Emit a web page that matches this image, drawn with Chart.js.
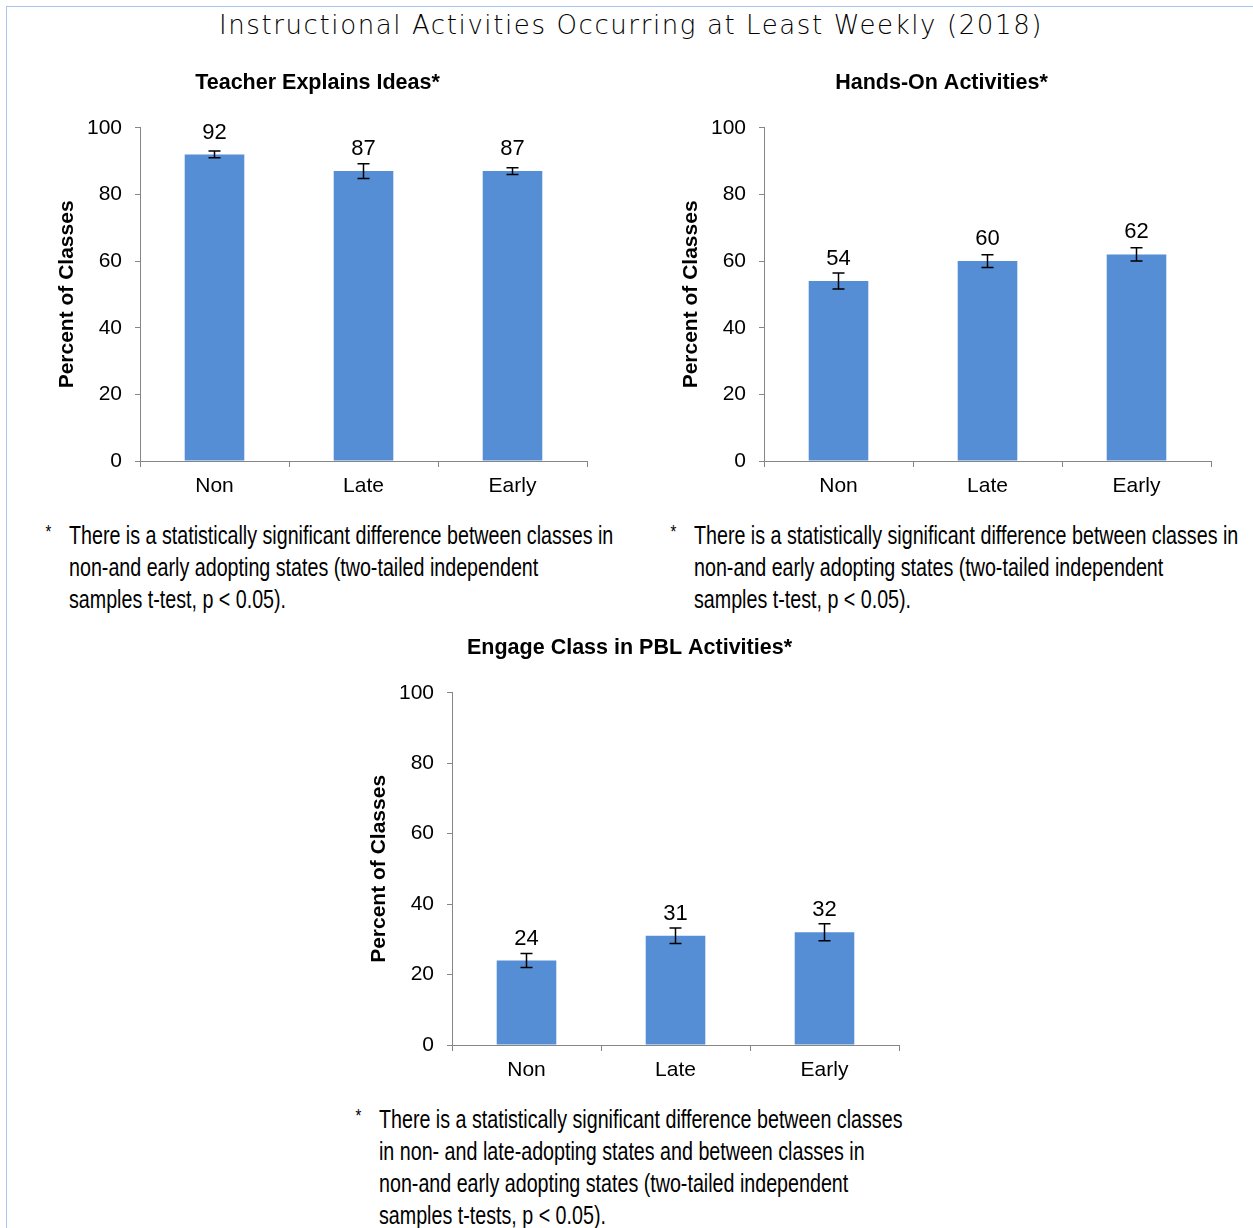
<!DOCTYPE html>
<html>
<head>
<meta charset="utf-8">
<script src="https://cdn.jsdelivr.net/npm/chart.js"></script>
<style>
  body { margin: 0; background: #fff; width: 1253px; height: 1228px; position: relative; overflow: hidden; }
  .frame { position: absolute; left: 6px; top: 6px; right: 0; bottom: 0; border-top: 1px solid #a9c4eb; border-left: 1px solid #a9c4eb; }
  .main-title { position: absolute; left: 0; width: 1262px; top: 10px; text-align: center; font-family: "DejaVu Sans", sans-serif; font-weight: 300; font-size: 26px; letter-spacing: 1.6px; color: #000; }
  .box { position: absolute; }
  .note { position: absolute; font-family: "Liberation Sans", sans-serif; font-size: 25px; line-height: 32px; color: #000; white-space: nowrap; transform: scaleX(0.787); transform-origin: 0 0; }
  .note .star { position: absolute; left: -30px; top: -3px; font-size: 19px; }
</style>
</head>
<body>
<div class="frame"></div>
<div class="main-title">Instructional Activities Occurring at Least Weekly (2018)</div>

<div class="box" style="left:40px; top:60px; width:560px; height:450px;"><canvas id="chart0"></canvas></div>
<div class="box" style="left:664px; top:60px; width:560px; height:450px;"><canvas id="chart1"></canvas></div>
<div class="box" style="left:352px; top:625px; width:560px; height:469px;"><canvas id="chart2"></canvas></div>

<div class="note" style="left:69px; top:519px;"><span class="star">*</span>There is a statistically significant difference between classes in<br>non-and early adopting states (two-tailed independent<br>samples t-test, p &lt; 0.05).</div>
<div class="note" style="left:694px; top:519px;"><span class="star">*</span>There is a statistically significant difference between classes in<br>non-and early adopting states (two-tailed independent<br>samples t-test, p &lt; 0.05).</div>
<div class="note" style="left:379px; top:1103px;"><span class="star">*</span>There is a statistically significant difference between classes<br>in non- and late-adopting states and between classes in<br>non-and early adopting states (two-tailed independent<br>samples t-tests, p &lt; 0.05).</div>

<script>
const categories = ['Non', 'Late', 'Early'];
const yTicks = [0, 20, 40, 60, 80, 100];

const explainValues = [92, 87, 87];
const explainLow = [91, 84.8, 86];
const explainHigh = [93, 89.2, 88];

const handsOnValues = [54, 60, 62];
const handsOnLow = [51.6, 58.1, 60];
const handsOnHigh = [56.4, 61.9, 64];

const pblValues = [24, 31, 32];
const pblLow = [22, 28.8, 29.6];
const pblHigh = [26, 33.2, 34.4];

const chartTitles = ['Teacher Explains Ideas*', 'Hands-On Activities*', 'Engage Class in PBL Activities*'];

const axisGray = '#868686';
const barBlue = '#558ED5';
const fontFamily = '"Liberation Sans", Arial, sans-serif';

// error bars + value labels, placed with the chart's own y scale
const errorBarPlugin = {
    id: 'errorBars',
    afterDatasetsDraw(chart) {
        const ctx = chart.ctx;
        const y = chart.scales.y;
        const ds = chart.data.datasets[0];
        const meta = chart.getDatasetMeta(0);
        ctx.save();
        ctx.strokeStyle = '#000';
        ctx.lineWidth = 1.5;
        meta.data.forEach((bar, i) => {
            const top = y.getPixelForValue(ds.errHigh[i]);
            const bot = y.getPixelForValue(ds.errLow[i]);
            ctx.beginPath();
            ctx.moveTo(bar.x, top);
            ctx.lineTo(bar.x, bot);
            ctx.moveTo(bar.x - 6, top);
            ctx.lineTo(bar.x + 6, top);
            ctx.moveTo(bar.x - 6, bot);
            ctx.lineTo(bar.x + 6, bot);
            ctx.stroke();

            ctx.fillStyle = '#000';
            ctx.font = '22px ' + fontFamily;
            ctx.textAlign = 'center';
            ctx.textBaseline = 'middle';
            ctx.fillText(String(ds.data[i]), bar.x, bar.y - 22);
        });
        ctx.restore();
    }
};

const makeChart = (id, title, values, low, high) => {
    return new Chart(document.getElementById(id), {
        type: 'bar',
        data: {
            labels: categories,
            datasets: [{
                data: values,
                errLow: low,
                errHigh: high,
                backgroundColor: barBlue,
                borderWidth: 0,
                barPercentage: 0.4,
                categoryPercentage: 1
            }]
        },
        options: {
            responsive: true,
            maintainAspectRatio: false,
            animation: false,
            layout: { padding: { left: 8, right: 13, top: 0, bottom: 0 } },
            plugins: {
                legend: { display: false },
                tooltip: { enabled: false },
                title: {
                    display: true,
                    text: title,
                    color: '#000',
                    font: { family: fontFamily, size: 21.5, weight: 'bold' },
                    padding: { top: 10, bottom: 32 }
                }
            },
            scales: {
                x: {
                    grid: { display: true, drawOnChartArea: false, offset: true, tickLength: 6, color: axisGray },
                    border: { color: axisGray, width: 1 },
                    ticks: { color: '#000', font: { family: fontFamily, size: 21 }, padding: 7 },
                    afterFit: (scale) => { scale.height = 49; }
                },
                y: {
                    min: yTicks[0],
                    max: yTicks[yTicks.length - 1],
                    afterBuildTicks: (scale) => { scale.ticks = yTicks.map(v => ({ value: v })); },
                    grid: { display: true, drawOnChartArea: false, tickLength: 5, color: axisGray },
                    border: { color: axisGray, width: 1 },
                    ticks: { color: '#000', font: { family: fontFamily, size: 21 }, padding: 13 },
                    title: {
                        display: true,
                        text: 'Percent of Classes',
                        color: '#000',
                        font: { family: fontFamily, size: 21, weight: 'bold' },
                        padding: { top: 7, bottom: 0 }
                    },
                    afterFit: (scale) => { scale.width = 92; }
                }
            }
        },
        plugins: [errorBarPlugin]
    });
};

makeChart('chart0', chartTitles[0], explainValues, explainLow, explainHigh);
makeChart('chart1', chartTitles[1], handsOnValues, handsOnLow, handsOnHigh);
makeChart('chart2', chartTitles[2], pblValues, pblLow, pblHigh);
</script>
</body>
</html>
